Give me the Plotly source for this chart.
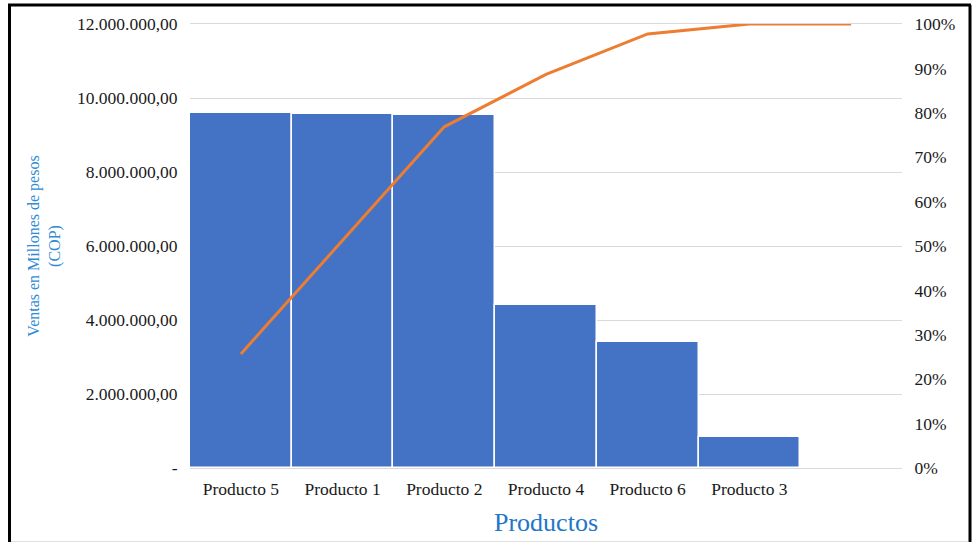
import plotly.graph_objects as go

# Ventas por producto (COP), ordenadas de mayor a menor
productos = ["Producto 5", "Producto 1", "Producto 2", "Producto 4", "Producto 6", "Producto 3"]
ventas = [9595000, 9560000, 9540000, 4405000, 3405000, 838000]

# Eje izquierdo
y_ticks = [0, 2000000, 4000000, 6000000, 8000000, 10000000, 12000000]
y_tick_text = ["-", "2.000.000,00", "4.000.000,00", "6.000.000,00",
               "8.000.000,00", "10.000.000,00", "12.000.000,00"]

# Porcentaje acumulado (Pareto); la línea se prolonga a una última categoría vacía
total = sum(ventas)
acumulado = []
s = 0
for v in ventas:
    s += v
    acumulado.append(s / total)
categorias = productos + [" "]
acumulado_linea = acumulado + [1.0]

SERIF = "Liberation Serif, Times New Roman, serif"
TXT = "#1a1a1a"
FS = 17.5

fig = go.Figure()
fig.add_trace(go.Bar(
    x=productos, y=ventas,
    marker=dict(color="#4472C4", line=dict(color="white", width=1.5)),
    name="Ventas",
))
fig.add_trace(go.Scatter(
    x=categorias, y=acumulado_linea, yaxis="y2", mode="lines",
    line=dict(color="#ED7D31", width=3),
    name="% acumulado",
))

fig.update_layout(
    width=972, height=544,
    margin=dict(l=190, r=70, t=24, b=76),
    paper_bgcolor="white", plot_bgcolor="white",
    showlegend=False, bargap=0,
    font=dict(family=SERIF, color=TXT, size=FS),
    xaxis=dict(
        type="category", categoryorder="array", categoryarray=categorias,
        range=[-0.5, len(categorias) - 0.5],
        showgrid=False, showline=True, linecolor="#D9D9D9", linewidth=1, mirror=True,
        ticks="outside", ticklen=5, tickcolor="rgba(0,0,0,0)",
        tickfont=dict(family=SERIF, size=FS, color=TXT),
        title=dict(text="Productos", font=dict(family=SERIF, size=26, color="#2176C7"), standoff=14),
    ),
    yaxis=dict(
        range=[0, 12000000], tickvals=y_ticks, ticktext=y_tick_text,
        showgrid=True, gridcolor="#D9D9D9", gridwidth=1, zeroline=False,
        showline=False,
        ticks="outside", ticklen=8, tickcolor="rgba(0,0,0,0)",
        tickfont=dict(family=SERIF, size=FS, color=TXT),
        title=dict(text="Ventas en Millones de pesos<br>(COP)",
                   font=dict(family=SERIF, size=16, color="#2E8BD6"), standoff=12),
    ),
    yaxis2=dict(
        overlaying="y", side="right", range=[0, 1], tickformat=".0%", dtick=0.1,
        showgrid=False, zeroline=False, showline=False,
        ticks="outside", ticklen=8, tickcolor="rgba(0,0,0,0)",
        tickfont=dict(family=SERIF, size=FS, color=TXT),
    ),
)

# Marco exterior
H = 444.0
W = 712.0
def px_x(x):
    return (x - 190) / W
def px_y(y):
    return (468 - y) / H

frame = [
    (9.5, 5, 9.5, 542, "black", 3),
    (8, 5, 971, 5, "black", 3),
    (970, 5, 970, 542, "black", 3),
    (11, 541.5, 968, 541.5, "#E0E0E0", 1),
]
for x0, y0, x1, y1, c, w in frame:
    fig.add_shape(type="line", xref="paper", yref="paper",
                  x0=px_x(x0), y0=px_y(y0), x1=px_x(x1), y1=px_y(y1),
                  line=dict(color=c, width=w), layer="above")

fig.write_html("out.html")
